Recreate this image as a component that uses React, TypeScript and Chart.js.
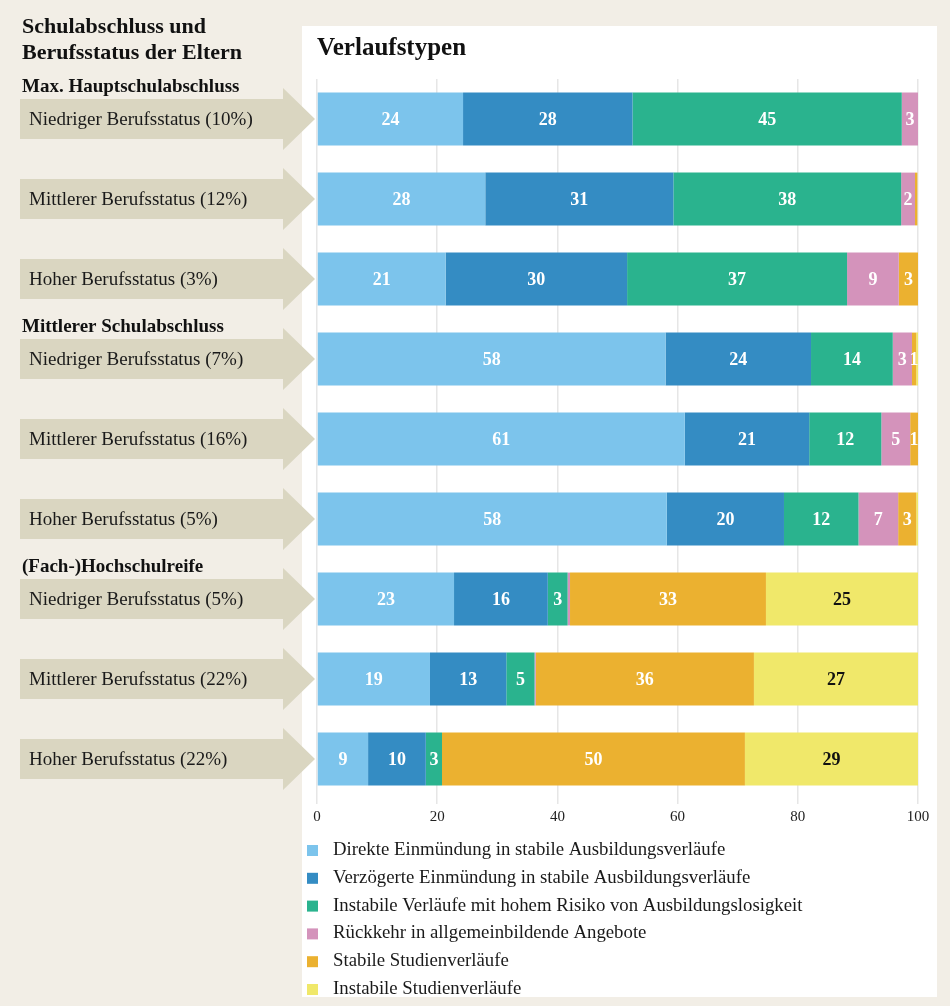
import React, { useEffect, useRef } from "react";
import { Chart, registerables } from "chart.js";

Chart.register(...registerables);

const categories = [
  "Niedriger Berufsstatus (10%)",
  "Mittlerer Berufsstatus (12%)",
  "Hoher Berufsstatus (3%)",
  "Niedriger Berufsstatus (7%)",
  "Mittlerer Berufsstatus (16%)",
  "Hoher Berufsstatus (5%)",
  "Niedriger Berufsstatus (5%)",
  "Mittlerer Berufsstatus (22%)",
  "Hoher Berufsstatus (22%)",
];

const groupHeaders = [
  { index: 0, text: "Max. Hauptschulabschluss" },
  { index: 3, text: "Mittlerer Schulabschluss" },
  { index: 6, text: "(Fach-)Hochschulreife" },
];

const seriesNames = [
  "Direkte Einmündung in stabile Ausbildungsverläufe",
  "Verzögerte Einmündung in stabile Ausbildungsverläufe",
  "Instabile Verläufe mit hohem Risiko von Ausbildungslosigkeit",
  "Rückkehr in allgemeinbildende Angebote",
  "Stabile Studienverläufe",
  "Instabile Studienverläufe",
];

const direkte = [24.3, 28.0, 21.4, 58.0, 61.2, 58.2, 22.8, 18.8, 8.5];
const verzoegerte = [28.2, 31.3, 30.2, 24.2, 20.7, 19.5, 15.6, 12.7, 9.6];
const instabilAusb = [44.8, 37.9, 36.6, 13.6, 12.0, 12.4, 3.3, 4.7, 2.7];
const rueckkehr = [2.7, 2.3, 8.6, 3.2, 4.8, 6.6, 0.4, 0.2, 0];
const stabilStudium = [0, 0.4, 3.2, 0.7, 1.3, 3.0, 32.6, 36.3, 50.4];
const instabilStudium = [0, 0, 0, 0.3, 0, 0.3, 25.3, 27.3, 28.8];

const xTicks = [0, 20, 40, 60, 80, 100];

const colors = ["#7cc4ec", "#348cc3", "#2ab38e", "#d493bb", "#ebb130", "#f0e86a"];
const labelColors = ["#ffffff", "#ffffff", "#ffffff", "#ffffff", "#ffffff", "#111111"];

const SERIF = '"Liberation Serif", "Times New Roman", serif';
const BEIGE = "#f2eee6";
const ARROW = "#dad6c1";

const decorPlugin = {
  id: "decor",
  beforeDraw(chart: any) {
    const ctx = chart.ctx;
    ctx.save();
    ctx.fillStyle = BEIGE;
    ctx.fillRect(0, 0, chart.width, chart.height);
    ctx.fillStyle = "#ffffff";
    ctx.fillRect(302, 26, 635, 971);
    ctx.restore();
  },
  afterDraw(chart: any) {
    const ctx = chart.ctx;
    const y = chart.scales.y;
    ctx.save();
    ctx.fillStyle = "#111";
    ctx.textBaseline = "alphabetic";
    ctx.textAlign = "left";
    ctx.font = `bold 25px ${SERIF}`;
    ctx.fillText("Verlaufstypen", 317, 55);
    ctx.font = `bold 22px ${SERIF}`;
    ctx.fillText("Schulabschluss und", 22, 33);
    ctx.fillText("Berufsstatus der Eltern", 22, 59);
    categories.forEach((cat, i) => {
      const cy = y.getPixelForValue(i);
      ctx.fillStyle = ARROW;
      ctx.beginPath();
      ctx.moveTo(20, cy - 20);
      ctx.lineTo(283, cy - 20);
      ctx.lineTo(283, cy - 31);
      ctx.lineTo(315, cy);
      ctx.lineTo(283, cy + 31);
      ctx.lineTo(283, cy + 20);
      ctx.lineTo(20, cy + 20);
      ctx.closePath();
      ctx.fill();
      ctx.fillStyle = "#1a1a1a";
      ctx.font = `19px ${SERIF}`;
      ctx.textBaseline = "middle";
      ctx.fillText(cat, 29, cy + 1);
    });
    groupHeaders.forEach((g) => {
      const cy = y.getPixelForValue(g.index);
      ctx.fillStyle = "#111";
      ctx.font = `bold 19px ${SERIF}`;
      ctx.textBaseline = "middle";
      ctx.fillText(g.text, 22, cy - 32);
    });
    seriesNames.forEach((name, i) => {
      const ly = 850 + i * 27.8;
      ctx.fillStyle = colors[i];
      ctx.fillRect(307, ly - 5, 11, 11);
      ctx.fillStyle = "#1a1a1a";
      ctx.font = `18.8px ${SERIF}`;
      ctx.textBaseline = "middle";
      ctx.fillText(name, 333, ly);
    });
    ctx.restore();
  },
  afterDatasetsDraw(chart: any) {
    const ctx = chart.ctx;
    ctx.save();
    ctx.font = `bold 18px ${SERIF}`;
    ctx.textAlign = "center";
    ctx.textBaseline = "middle";
    chart.data.datasets.forEach((ds: any, di: number) => {
      const meta = chart.getDatasetMeta(di);
      meta.data.forEach((el: any, i: number) => {
        const v = ds.data[i];
        const r = Math.round(v);
        if (r < 1) return;
        const p = el.getProps(["x", "base", "y"], true);
        ctx.fillStyle = labelColors[di];
        ctx.fillText(String(r), (p.x + p.base) / 2, p.y + 1);
      });
    });
    ctx.restore();
  },
};

export default function App() {
  const ref = useRef<HTMLCanvasElement | null>(null);
  useEffect(() => {
    document.body.style.margin = "0";
    const series = [direkte, verzoegerte, instabilAusb, rueckkehr, stabilStudium, instabilStudium];
    const chart = new Chart(ref.current as HTMLCanvasElement, {
      type: "bar",
      data: {
        labels: categories,
        datasets: series.map((d, i) => ({
          label: seriesNames[i],
          data: d,
          backgroundColor: colors[i],
          borderWidth: 0,
          categoryPercentage: 1,
          barPercentage: 0.66,
        })),
      },
      options: {
        indexAxis: "y",
        animation: false,
        responsive: false,
        maintainAspectRatio: false,
        layout: { padding: { left: 317, right: 32, top: 79, bottom: 0 } },
        plugins: {
          legend: { display: false },
          tooltip: { enabled: false },
          title: { display: false },
        },
        scales: {
          x: {
            stacked: true,
            min: 0,
            max: 100,
            afterBuildTicks: (scale: any) => {
              scale.ticks = xTicks.map((v) => ({ value: v }));
            },
            afterFit: (scale: any) => {
              scale.height = 207;
            },
            grid: {
              color: "#e6e6e6",
              lineWidth: 1.5,
              drawTicks: true,
              tickLength: 5,
            },
            border: { display: false },
            ticks: {
              color: "#222",
              font: { family: SERIF, size: 15 },
              padding: 4,
            },
          },
          y: {
            stacked: true,
            display: false,
          },
        },
      },
      plugins: [decorPlugin],
    });
    return () => chart.destroy();
  }, []);
  return (
    <div style={{ position: "absolute", left: 0, top: 0, width: 950, height: 1006, background: BEIGE }}>
      <canvas ref={ref} width={950} height={1006} style={{ display: "block", width: 950, height: 1006 }} />
    </div>
  );
}
